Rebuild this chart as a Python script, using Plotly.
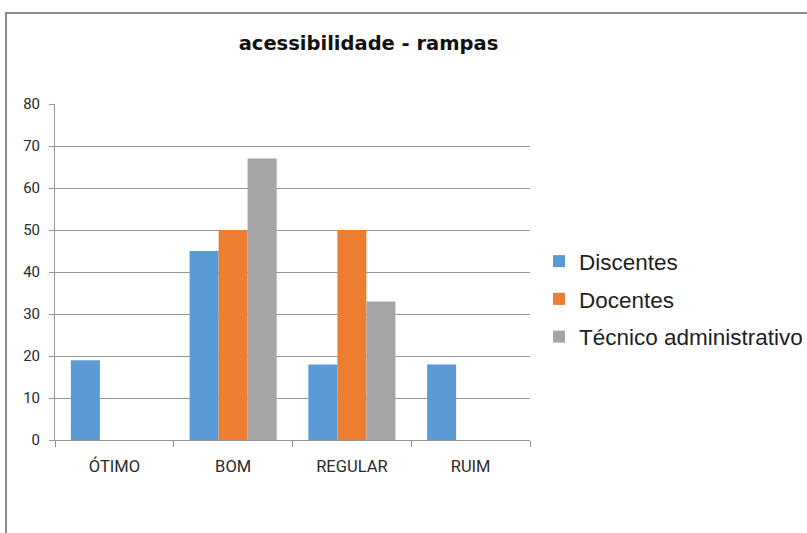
import plotly.graph_objects as go

categories = ["ÓTIMO", "BOM", "REGULAR", "RUIM"]
discentes = [19, 45, 18, 18]
docentes = [0, 50, 50, 0]
tecnico = [0, 67, 33, 0]
series_names = ["Discentes", "Docentes", "Técnico administrativo"]
colors = ["#5B9BD5", "#ED7D31", "#A5A5A5"]

W, H = 807, 533
L, R, T, B = 55, 530, 104, 440

def px_x(px):
    return (px - L) / (R - L)

def px_y(py):
    return (B - py) / (B - T)

fig = go.Figure()
for i, (name, vals) in enumerate(zip(series_names, [discentes, docentes, tecnico])):
    fig.add_trace(go.Bar(
        x=categories, y=vals, name=name,
        marker=dict(color=colors[i], line=dict(width=0)),
        legendgroup=f"g{i}",
    ))

fig.update_layout(
    width=W, height=H,
    margin=dict(l=L, r=W - R, t=T, b=H - B, pad=0, autoexpand=False),
    paper_bgcolor="white", plot_bgcolor="white",
    barmode="group", bargap=0.267, bargroupgap=0,
    title=dict(
        text="<b>acessibilidade - rampas</b>",
        font=dict(family="DejaVu Sans", size=19.5, color="#111111"),
        x=368.5 / W, xanchor="center", xref="container",
        y=1 - 43 / H, yanchor="middle", yref="container",
    ),
    legend=dict(
        x=px_x(539), xanchor="left", xref="paper",
        y=px_y(240), yanchor="top", yref="paper",
        font=dict(family="Liberation Sans, Arial", size=22.5, color="#1e1e1e"),
        tracegroupgap=5.5, bgcolor="rgba(0,0,0,0)", borderwidth=0,
    ),
    showlegend=True,
    font=dict(family="Roboto, Liberation Sans", color="#2a2a2a"),
)

fig.update_yaxes(
    range=[0, 80], dtick=10, tick0=0,
    showgrid=True, gridcolor="#959595", gridwidth=1,
    showline=True, linecolor="#959595", linewidth=1,
    ticks="outside", ticklen=5, tickcolor="#959595",
    zeroline=False,
    tickfont=dict(family="Roboto, Liberation Sans", size=15, color="#2a2a2a"),
    ticklabelstandoff=6,
)
fig.update_xaxes(
    type="category",
    showline=True, linecolor="#959595", linewidth=1,
    ticks="outside", ticklen=6, tickcolor="#959595", tickson="boundaries",
    tickfont=dict(family="Roboto, Liberation Sans", size=16.5, color="#2a2a2a"),
    ticklabelstandoff=11,
    showgrid=False,
)

fig.add_shape(
    type="rect", xref="paper", yref="paper",
    x0=px_x(6), x1=px_x(840), y0=px_y(570), y1=px_y(13),
    line=dict(color="#8c8c8c", width=2), fillcolor="rgba(0,0,0,0)", layer="below",
)

fig.write_html(
    "out.html",
    config={"displayModeBar": False},
    post_script="document.body.style.margin='0';",
)
